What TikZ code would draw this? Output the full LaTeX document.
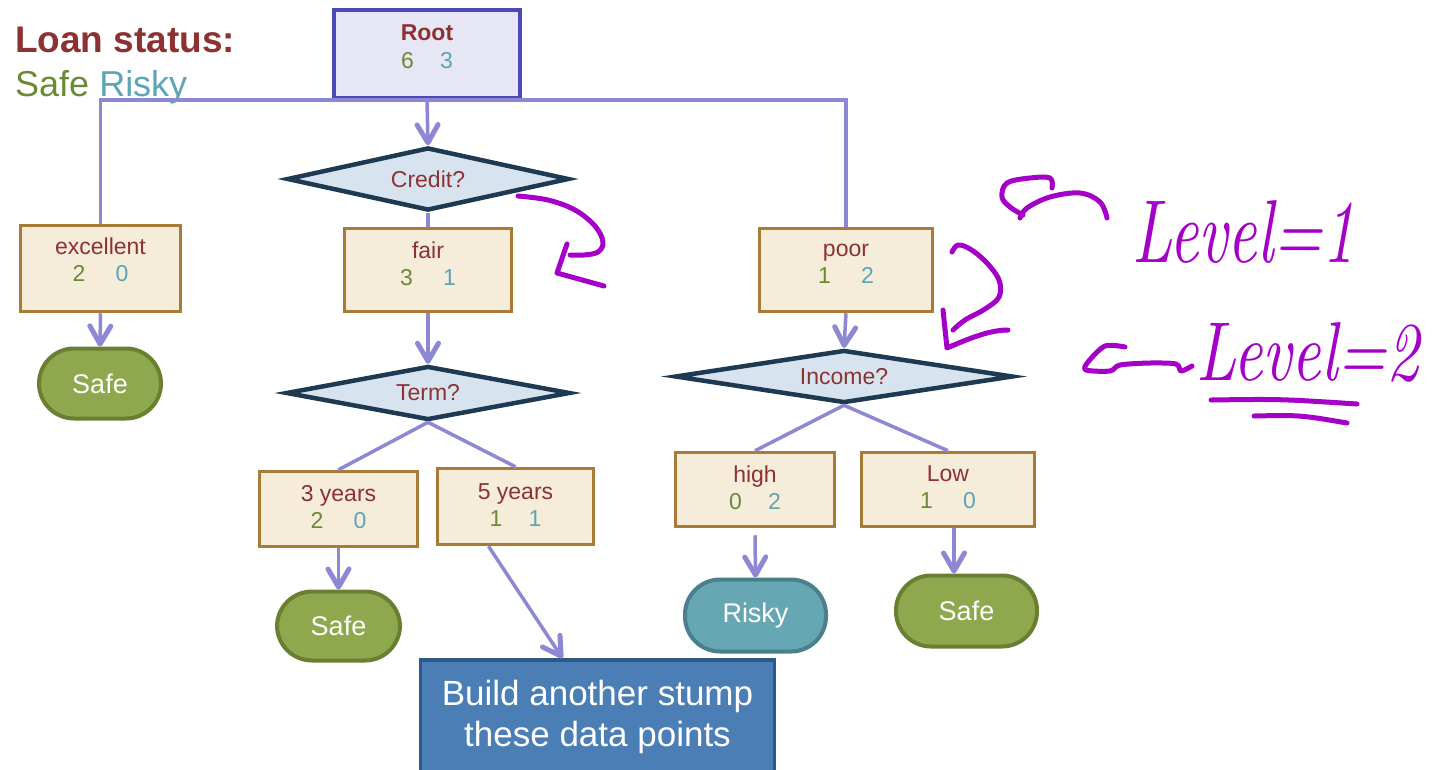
\documentclass[tikz,border=0pt]{standalone}
\usepackage{graphicx}
\usepackage{fontspec}
\newfontfamily\hel{Liberation Sans}
\usetikzlibrary{arrows.meta,shapes.geometric,calc}

\definecolor{txtred}{RGB}{140,50,50}
\definecolor{sgreen}{RGB}{107,138,53}
\definecolor{rteal}{RGB}{91,165,181}
\definecolor{rootfill}{RGB}{230,230,245}
\definecolor{rootline}{RGB}{75,72,184}
\definecolor{connline}{RGB}{140,136,212}
\definecolor{qfill}{RGB}{215,228,240}
\definecolor{qline}{RGB}{30,58,82}
\definecolor{bfill}{RGB}{245,236,218}
\definecolor{bline}{RGB}{168,123,56}
\definecolor{safefill}{RGB}{143,168,77}
\definecolor{safeline}{RGB}{106,127,50}
\definecolor{riskyfill}{RGB}{103,166,179}
\definecolor{riskyline}{RGB}{74,127,141}
\definecolor{buildfill}{RGB}{74,126,181}
\definecolor{buildline}{RGB}{47,89,133}
\definecolor{ink}{RGB}{165,0,200}

% safe / risky counts, coloured, with a gap between them
\newcommand\tally[3][30pt]{\textcolor{sgreen}{#2}\hspace{#1}\textcolor{rteal}{#3}}

\tikzset{
  rootbox/.style={rectangle, draw=rootline, fill=rootfill, line width=3.5pt, inner sep=0pt},
  question/.style={diamond, aspect=4.3, draw=qline, fill=qfill, line width=4.5pt, inner sep=0pt,
    text=txtred, font=\hel\fontsize{23}{26}\selectfont},
  branch/.style={rectangle, draw=bline, fill=bfill, line width=3.5pt, inner sep=0pt},
  lbl/.style={inner sep=0pt, align=center, text=txtred, font=\hel\fontsize{23}{27}\selectfont},
  leaf/.style={rectangle, rounded corners=35pt, line width=4pt, inner sep=0pt, text=white,
    font=\hel\fontsize{27}{30}\selectfont},
  safeleaf/.style={leaf, draw=safeline, fill=safefill},
  riskyleaf/.style={leaf, draw=riskyline, fill=riskyfill},
  link/.style={draw=connline, line width=3.5pt},
  arr/.style={link, -{Straight Barb[length=18pt,width=21pt,line width=5pt,round]}},
  ink/.style={draw=ink, line width=5pt, line cap=round, line join=round},
  handtext/.style={inner sep=0pt, text=ink, font=\rmfamily\itshape}
}

\begin{document}
\begin{tikzpicture}[x=1pt, y=-1pt]
\useasboundingbox (0,0) rectangle (1435,769);
\clip (0,0) rectangle (1435,769);
\fill[white] (0,0) rectangle (1435,769);

% legend
\node[anchor=base west, inner sep=0pt, text=txtred, font=\hel\bfseries\fontsize{37}{40}\selectfont]
  (legendtitle) at (15,52) {Loan status:};
\node[anchor=base west, inner sep=0pt, font=\hel\fontsize{36}{40}\selectfont]
  (legendkeys) at (15,96) {\textcolor{sgreen}{Safe} \textcolor{rteal}{Risky}};

% tree nodes
\node[rootbox, minimum width=186pt, minimum height=88pt] (root) at (427,54) {};
\node[lbl, font=\hel\fontsize{23}{28}\selectfont] (rootlbl) at (427,47) {\textbf{Root}\\\tally[26pt]{6}{3}};

\node[question, minimum width=282pt, minimum height=63pt] (credit) at (428,179) {Credit?};

\node[branch, minimum width=160pt, minimum height=86pt] (excellent) at (100.5,268.5) {};
\node[lbl] (excellentlbl) at (100.5,260) {excellent\\\tally{2}{0}};
\node[branch, minimum width=167pt, minimum height=83pt] (fair) at (428,270) {};
\node[lbl] (fairlbl) at (428,263.5) {fair\\\tally{3}{1}};
\node[branch, minimum width=173pt, minimum height=83pt] (poor) at (846,270) {};
\node[lbl] (poorlbl) at (846,263.5) {poor\\\tally{1}{2}};

\node[safeleaf, minimum width=122pt, minimum height=70pt] (safe1) at (100,383.5) {Safe};

\node[question, minimum width=284pt, minimum height=54pt] (term) at (428,393) {Term?};
\node[question, minimum width=338pt, minimum height=53pt] (income) at (844,376.5) {Income?};

\node[branch, minimum width=158pt, minimum height=75pt] (y3) at (338.5,509) {};
\node[lbl] (y3lbl) at (338.5,507.5) {3 years\\\tally{2}{0}};
\node[branch, minimum width=156pt, minimum height=76pt] (y5) at (515.5,506.5) {};
\node[lbl] (y5lbl) at (515.5,505) {5 years\\\tally[26pt]{1}{1}};
\node[branch, minimum width=159pt, minimum height=74pt] (high) at (755,489.5) {};
\node[lbl] (highlbl) at (755,487.5) {high\\\tally[26pt]{0}{2}};
\node[branch, minimum width=173pt, minimum height=74pt] (low) at (948,489.5) {};
\node[lbl] (lowlbl) at (948,487.5) {Low\\\tally{1}{0}};

\node[safeleaf, minimum width=123pt, minimum height=69pt] (safe2) at (338.5,626) {Safe};
\node[riskyleaf, minimum width=141pt, minimum height=72pt] (risky) at (755.5,615.5) {Risky};
\node[safeleaf, minimum width=141pt, minimum height=71pt] (safe3) at (966.5,611) {Safe};

\node[rectangle, draw=buildline, fill=buildfill, line width=3.5pt, inner sep=0pt,
  minimum width=354pt, minimum height=114pt, align=center, text=white,
  font=\hel\fontsize{35}{41}\selectfont] (build) at (597.5,717) {Build another stump\\these data points};

% connectors
\draw[link] (excellent.north) |- (root.south) -| (poor.north);
\draw[arr] (root.south) -- (credit.north);
\draw[link] (credit.south) -- (fair.north);
\draw[arr] (excellent.south) -- (safe1.north);
\draw[arr] (fair.south) -- (term.north);
\draw[arr] (poor.south) -- (income.north);
\draw[link] (term.south) -- (y3.north);
\draw[link] (term.south) -- (y5.north);
\draw[link] (income.south) -- (high.north);
\draw[link] (income.south) -- (low.north);
\draw[arr] (y3.south) -- (safe2.north);
\draw[arr] ($(y5.south)+(-27,0)$) -- ($(build.north)+(-35,0)$);
\draw[arr] ([yshift=-7pt]high.south) -- (risky.north);
\coordinate (lowout) at ($(low.south)+(6,0)$);
\draw[arr] (lowout) -- (lowout |- safe3.north);

% handwritten notes
\draw[ink] plot[smooth, tension=0.6] coordinates {(518,196) (548,200) (575,210) (595,226) (603,242) (598,252) (584,255) (570,255)};
\draw[ink] (567,244) -- (557,273) -- (604,286);

\draw[ink] plot[smooth, tension=0.6] coordinates {(952,252) (958,245) (970,249) (986,262) (999,280) (999,297) (985,309) (965,320) (953,330)};
\draw[ink] (943,310) -- (947,348) .. controls (970,338) and (990,330) .. (1008,330);

\draw[ink] plot[smooth, tension=0.6] coordinates {(1052,188) (1050,178) (1030,178) (1007,183) (1002,197) (1010,207) (1023,215)};
\draw[ink] plot[smooth, tension=0.6] coordinates {(1020,218) (1027,208) (1050,197) (1080,193) (1100,202) (1107,218)};
\node[handtext, anchor=base west] (level1) at (1132,262) {\resizebox{223pt}{62pt}{Level=1}};

\draw[ink] plot[smooth, tension=0.5] coordinates {(1125,347) (1105,346) (1088,362) (1086,370) (1110,371) (1120,365) (1150,363) (1176,364) (1181,371) (1192,366)};
\node[handtext, anchor=base west] (level2) at (1196,380) {\resizebox{223pt}{58pt}{Level=2}};
\draw[ink] (1211,400) .. controls (1280,399) .. (1357,404);
\draw[ink] (1254,416) .. controls (1300,415) .. (1347,423);
\end{tikzpicture}
\end{document}
